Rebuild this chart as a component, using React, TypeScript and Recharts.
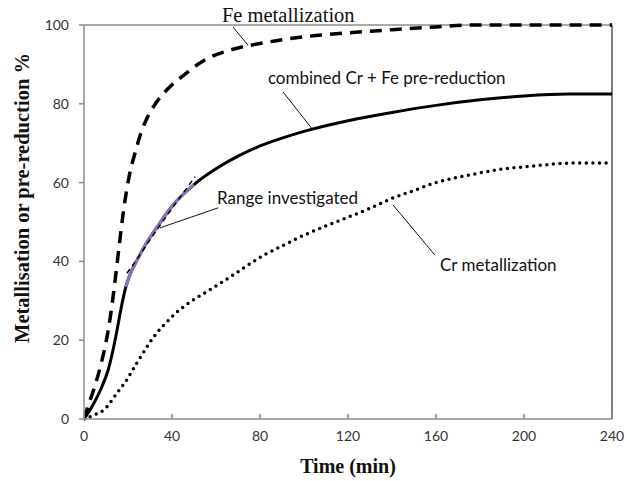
import React from "react";
import { LineChart, Line, XAxis, YAxis, ReferenceLine, ReferenceDot } from "recharts";

const xTicks = [0, 40, 80, 120, 160, 200, 240];
const yTicks = [0, 20, 40, 60, 80, 100];

const feTime = [0, 2, 5, 8, 10, 12, 14, 16, 18, 20.5, 23.6, 26, 29.5, 32.7, 37.6, 45.4, 54.5, 66.8, 80, 100, 120, 140, 160, 175, 200, 240];
const feMet = [0, 3.5, 8.5, 14.5, 19.5, 26, 34.5, 44, 53, 61.5, 68.3, 72.8, 77.3, 80.2, 83.5, 87.3, 91, 93.7, 95.3, 97, 98, 98.8, 99.5, 100, 100, 100];

const combTime = [0, 4, 8, 11, 13, 15, 17, 19, 21, 24, 28, 33, 40, 50, 60, 70, 80, 90, 100, 120, 140, 160, 180, 200, 220, 240];
const combRed = [0, 3.5, 8, 12.5, 17, 22.5, 28.5, 33.5, 36.8, 40.2, 44.3, 48.5, 54, 59.5, 63.5, 66.7, 69.3, 71.3, 73, 75.7, 77.8, 79.6, 81, 82, 82.5, 82.5];

const crTime = [0, 4.5, 9, 15, 19.5, 24, 28.6, 33, 37.6, 42, 48.6, 56, 63.6, 72.7, 81.8, 91, 98.6, 110, 120, 130, 140, 150, 160, 174, 190, 204, 224, 240];
const crMet = [0, 1, 2.3, 6.6, 10, 14.2, 18.3, 21.8, 24.6, 27, 29.8, 32.4, 35, 38.4, 41.6, 44.2, 46.3, 49, 51.2, 53.5, 56, 58, 60, 61.8, 63.4, 64.2, 65, 65];

const rangeTime = [19, 21, 24, 28, 33, 40, 45, 50];
const rangeVal = [33.5, 36.8, 40.2, 44.3, 48.5, 54, 57, 59.5];

const fitTime = [19.5, 24, 30, 35, 42, 50.5];
const fitVal = [37, 40.5, 45.5, 49.5, 55, 61.5];

const zip = (t: number[], v: number[]) => t.map((x, i) => ({ t: x, y: v[i] }));

const fe = zip(feTime, feMet);
const comb = zip(combTime, combRed);
const cr = zip(crTime, crMet);
const range = zip(rangeTime, rangeVal);
const fit = zip(fitTime, fitVal);

const sans = "Lato, 'Open Sans', sans-serif";
const serif = "'Liberation Serif', 'Times New Roman', serif";
const axisGrey = "#8c8c8c";

const note = (text: string, family: string, size: number) => (p: any) => (
  <text x={p.cx} y={p.cy} fontFamily={family} fontSize={size} fill="#111" dominantBaseline="middle">
    {text}
  </text>
);

export default function App() {
  return (
    <div style={{ position: "absolute", left: 0, top: 0, background: "#fff" }}>
      <LineChart width={627} height={481} margin={{ top: 25, right: 15, left: 0, bottom: 0 }}>
        <XAxis
          dataKey="t"
          type="number"
          domain={[0, 240]}
          ticks={xTicks}
          allowDataOverflow
          height={62}
          stroke={axisGrey}
          strokeWidth={1.5}
          tickSize={-5}
          tickMargin={17}
          tick={{ fill: "#333", fontSize: 14, fontFamily: sans }}
          label={{
            content: () => (
              <text x={348} y={468} textAnchor="middle" dominantBaseline="middle" fontFamily={serif} fontWeight="bold" fontSize={20} fill="#111">
                Time (min)
              </text>
            ),
          }}
        />
        <YAxis
          type="number"
          domain={[0, 100]}
          ticks={yTicks}
          width={84}
          stroke={axisGrey}
          strokeWidth={1.5}
          tickSize={5}
          tickMargin={10}
          tick={{ fill: "#333", fontSize: 14, fontFamily: sans }}
          label={{
            content: () => (
              <text x={24} y={198} transform="rotate(-90 24 198)" textAnchor="middle" dominantBaseline="middle" fontFamily={serif} fontWeight="bold" fontSize={20.5} fill="#111">
                Metallisation or pre-reduction %
              </text>
            ),
          }}
        />
        <ReferenceLine y={100} stroke={axisGrey} strokeWidth={1.5} />
        <ReferenceLine x={240} stroke="#555" strokeWidth={1.5} />

        <Line data={fe} dataKey="y" type="monotone" stroke="#000" strokeWidth={3.5} strokeDasharray="12 8" dot={false} isAnimationActive={false} />
        <Line data={comb} dataKey="y" type="monotone" stroke="#000" strokeWidth={3} dot={false} isAnimationActive={false} />
        <Line data={cr} dataKey="y" type="monotone" stroke="#000" strokeWidth={3.5} strokeDasharray="0 6.6" strokeLinecap="round" dot={false} isAnimationActive={false} />
        <Line data={range} dataKey="y" type="monotone" stroke="#8e6fc4" strokeWidth={3} dot={false} isAnimationActive={false} />
        <Line data={fit} dataKey="y" type="monotone" stroke="#000" strokeWidth={1.5} strokeDasharray="5 4" dot={false} isAnimationActive={false} />

        <ReferenceLine segment={[{ x: 67.7, y: 99.5 }, { x: 74.5, y: 94.9 }]} stroke="#111" ifOverflow="visible" />
        <ReferenceLine segment={[{ x: 90.5, y: 83 }, { x: 104, y: 73.4 }]} stroke="#111" ifOverflow="visible" />
        <ReferenceLine segment={[{ x: 61, y: 53.6 }, { x: 34.5, y: 48.5 }]} stroke="#111" ifOverflow="visible" />
        <ReferenceLine segment={[{ x: 140.5, y: 54.3 }, { x: 159.5, y: 41.6 }]} stroke="#111" ifOverflow="visible" />

        <ReferenceDot x={62.7} y={102} r={0} ifOverflow="visible" shape={note("Fe metallization", serif, 20.5)} />
        <ReferenceDot x={83.6} y={86} r={0} ifOverflow="visible" shape={note("combined Cr + Fe pre-reduction", sans, 17)} />
        <ReferenceDot x={60.5} y={55.6} r={0} ifOverflow="visible" shape={note("Range investigated", sans, 17)} />
        <ReferenceDot x={161.8} y={38.6} r={0} ifOverflow="visible" shape={note("Cr metallization", sans, 17)} />
      </LineChart>
    </div>
  );
}
